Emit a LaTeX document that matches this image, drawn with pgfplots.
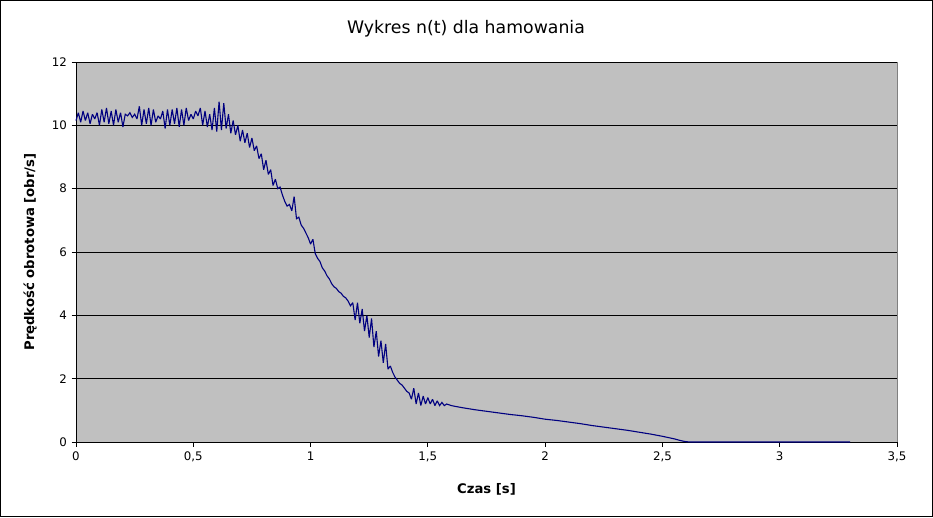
\documentclass[border=0pt]{standalone}
\usepackage{pgfplots}
\pgfplotsset{compat=1.18}
\usepackage{fontspec}
\setmainfont{DejaVu Sans}
\definecolor{bgray}{HTML}{C0C0C0}
\definecolor{navyline}{HTML}{000080}
\begin{document}
\begin{tikzpicture}
\draw[black, line width=1pt] (0.5pt,0.5pt) rectangle (932.5pt,516.5pt);
\node[font=\fontsize{17.3}{19}\selectfont] at (466pt,488pt) {Wykres n(t) dla hamowania};
\node[font=\fontsize{13.2}{15}\selectfont\bfseries] at (486.5pt,28pt) {Czas [s]};
\node[font=\fontsize{13.2}{15}\selectfont\bfseries, rotate=90] at (30pt,265pt) {Prędkość obrotowa [obr/s]};
\begin{axis}[
  scale only axis,
  width=821pt, height=380pt,
  at={(76pt,75pt)}, anchor=south west,
  xmin=0, xmax=3.5, ymin=0, ymax=12,
  xtick={0,0.5,...,3.5}, ytick={0,2,...,12},
  /pgf/number format/use comma,
  /pgf/number format/assume math mode=true,
  tick label style={font=\fontsize{11.8}{13}\selectfont},
  tick pos=left, tick align=outside,
  major tick length=4.5pt,
  every tick/.style={black, line width=0.8pt},
  axis background/.style={fill=bgray},
  axis line style={draw=none},
  ymajorgrids, major grid style={black, line width=0.9pt},
  xticklabel style={yshift=-2pt},
  yticklabel style={xshift=-1pt},
  clip=false,
]
\draw[black, line width=0.9pt] (axis cs:0,0) -- (axis cs:0,12);
\draw[gray, line width=0.9pt] (axis cs:3.5,0) -- (axis cs:3.5,12);
\addplot[navyline, line width=1.1pt, mark=none, line join=miter, miter limit=2] table {
x y
0.00 10.15
0.01 10.4
0.02 10.1
0.03 10.45
0.04 10.15
0.05 10.4
0.06 10.05
0.07 10.35
0.08 10.2
0.09 10.4
0.10 10.0
0.11 10.5
0.12 10.1
0.13 10.55
0.14 10.05
0.15 10.45
0.16 10.0
0.17 10.5
0.18 10.1
0.19 10.4
0.20 9.95
0.21 10.35
0.22 10.3
0.23 10.4
0.24 10.25
0.25 10.35
0.26 10.2
0.27 10.6
0.28 10.0
0.29 10.5
0.30 10.05
0.31 10.55
0.32 10.0
0.33 10.5
0.34 10.1
0.35 10.3
0.36 10.2
0.37 10.45
0.38 9.9
0.39 10.5
0.40 10.0
0.41 10.5
0.42 10.05
0.43 10.55
0.44 9.95
0.45 10.5
0.46 10.0
0.47 10.55
0.48 10.15
0.49 10.35
0.50 10.2
0.51 10.45
0.52 10.3
0.53 10.55
0.54 10.0
0.55 10.45
0.56 9.95
0.57 10.35
0.58 9.85
0.59 10.55
0.60 9.8
0.61 10.75
0.62 9.85
0.63 10.7
0.64 9.9
0.65 10.35
0.66 9.75
0.67 10.15
0.68 9.7
0.69 10.0
0.70 9.5
0.71 9.85
0.72 9.45
0.73 9.75
0.74 9.3
0.75 9.6
0.76 9.2
0.77 9.35
0.78 8.95
0.79 9.1
0.80 8.6
0.81 8.9
0.82 8.45
0.83 8.6
0.84 8.1
0.85 8.3
0.86 8.0
0.87 8.05
0.88 7.8
0.89 7.6
0.90 7.45
0.91 7.5
0.92 7.3
0.93 7.75
0.94 7.05
0.95 7.1
0.96 6.85
0.97 6.75
0.98 6.6
0.99 6.45
1.00 6.25
1.01 6.4
1.02 5.95
1.03 5.8
1.04 5.7
1.05 5.5
1.06 5.4
1.07 5.25
1.08 5.15
1.09 5.0
1.10 4.9
1.11 4.85
1.12 4.75
1.13 4.7
1.14 4.6
1.15 4.55
1.16 4.45
1.17 4.3
1.18 4.4
1.19 3.85
1.20 4.4
1.21 3.75
1.22 4.2
1.23 3.5
1.24 4.0
1.25 3.3
1.26 3.9
1.27 3.0
1.28 3.5
1.29 2.7
1.30 3.2
1.31 2.5
1.32 3.1
1.33 2.3
1.34 2.4
1.35 2.2
1.36 2.05
1.37 1.95
1.38 1.85
1.39 1.8
1.40 1.7
1.41 1.6
1.42 1.55
1.43 1.35
1.44 1.7
1.45 1.2
1.46 1.55
1.47 1.15
1.48 1.45
1.49 1.2
1.50 1.4
1.51 1.2
1.52 1.35
1.53 1.15
1.54 1.3
1.55 1.15
1.56 1.25
1.57 1.15
1.58 1.2
1.60 1.15
1.62 1.12
1.65 1.08
1.70 1.02
1.75 0.97
1.80 0.92
1.85 0.87
1.90 0.83
1.95 0.78
2.00 0.72
2.05 0.68
2.10 0.63
2.15 0.58
2.20 0.52
2.25 0.47
2.30 0.42
2.35 0.37
2.40 0.31
2.45 0.25
2.50 0.18
2.55 0.10
2.58 0.04
2.60 0.01
2.62 0.0
3.30 0.0
};
\end{axis}
\end{tikzpicture}
\end{document}
